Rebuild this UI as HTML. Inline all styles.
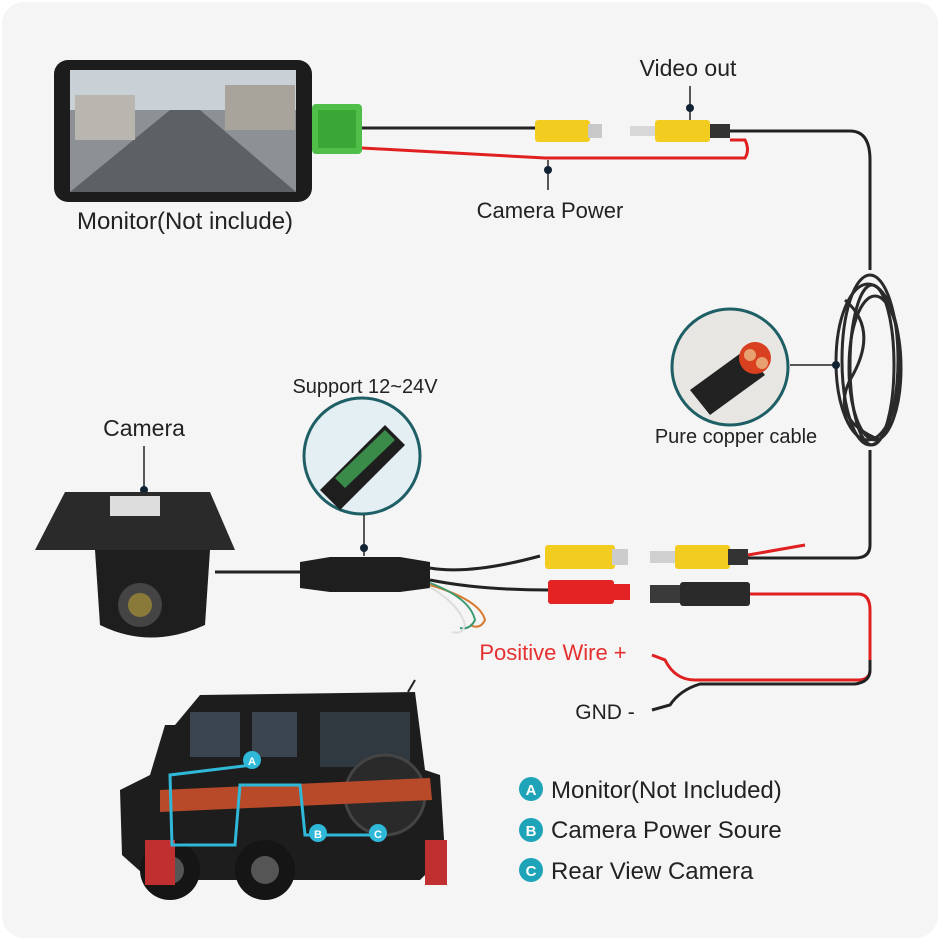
<!DOCTYPE html>
<html><head><meta charset="utf-8"><style>
html,body{margin:0;padding:0;background:#ffffff;}
svg{display:block}
text{font-family:"Liberation Sans",sans-serif;}
</style></head><body>
<svg width="940" height="940" viewBox="0 0 940 940" xmlns="http://www.w3.org/2000/svg">
<rect x="0" y="0" width="940" height="940" fill="#ffffff"/>
<rect x="2" y="2" width="936" height="936" rx="22" fill="#f5f5f5"/>
<!-- monitor -->
<rect x="54" y="60" width="258" height="142" rx="14" fill="#1c1c1c"/>
<rect x="70" y="70" width="226" height="122" fill="#8d9094"/>
<rect x="70" y="70" width="226" height="40" fill="#c9d0d6"/>
<polygon points="70,192 170,110 200,110 296,192" fill="#5d6064"/>
<rect x="75" y="95" width="60" height="45" fill="#b9b6b0"/>
<rect x="225" y="85" width="70" height="45" fill="#a8a39b"/>
<text x="185" y="229" font-size="24" text-anchor="middle" fill="#222">Monitor(Not include)</text>
<!-- green connector -->
<rect x="312" y="104" width="50" height="50" rx="4" fill="#4fbf4a"/>
<rect x="318" y="110" width="38" height="38" fill="#3aa635"/>
<!-- wires top -->
<path d="M362 128 L535 128" stroke="#222" stroke-width="3" fill="none"/>
<path d="M362 148 L545 158 L745 158 Q750 150 745 140 L730 140" stroke="#e02020" stroke-width="3" fill="none"/>
<rect x="535" y="120" width="55" height="22" rx="3" fill="#f2cc1f"/>
<rect x="588" y="124" width="14" height="14" fill="#c8c8c8"/>
<rect x="630" y="126" width="25" height="10" fill="#d8d8d8"/>
<rect x="655" y="120" width="55" height="22" rx="3" fill="#f2cc1f"/>
<rect x="710" y="124" width="20" height="14" fill="#333"/>
<path d="M730 131 L850 131 Q870 131 870 160 L870 270" stroke="#222" stroke-width="3" fill="none"/>
<line x1="690" y1="86" x2="690" y2="120" stroke="#222" stroke-width="1.5"/>
<circle cx="690" cy="108" r="4" fill="#123"/>
<text x="688" y="76" font-size="23" text-anchor="middle" fill="#222">Video out</text>
<line x1="548" y1="160" x2="548" y2="190" stroke="#222" stroke-width="1.5"/>
<circle cx="548" cy="170" r="4" fill="#123"/>
<text x="550" y="218" font-size="22" text-anchor="middle" fill="#222">Camera Power</text>
<!-- coil -->
<g fill="none" stroke="#2a2a2a" stroke-width="3">
<ellipse cx="870" cy="360" rx="28" ry="85"/>
<ellipse cx="872" cy="365" rx="22" ry="80"/>
<ellipse cx="868" cy="362" rx="32" ry="78"/>
<ellipse cx="875" cy="368" rx="26" ry="72"/>
<path d="M845 300 Q880 330 850 380 Q830 420 880 440"/>
</g>
<path d="M870 450 L870 545 Q870 558 855 558 L745 558" stroke="#222" stroke-width="3" fill="none"/>
<line x1="790" y1="365" x2="836" y2="365" stroke="#222" stroke-width="1.5"/>
<circle cx="836" cy="365" r="4" fill="#123"/>
<!-- copper cable circle -->
<circle cx="730" cy="367" r="58" fill="#e8e6e2" stroke="#1e5f66" stroke-width="3"/>
<path d="M690 390 L745 350 L765 375 L710 415 Z" fill="#222"/>
<circle cx="755" cy="358" r="16" fill="#d84020"/>
<circle cx="750" cy="355" r="6" fill="#e8a070"/>
<circle cx="762" cy="363" r="6" fill="#e8a070"/>
<text x="736" y="443" font-size="20" text-anchor="middle" fill="#222">Pure copper cable</text>
<!-- camera -->
<text x="144" y="436" font-size="23" text-anchor="middle" fill="#222">Camera</text>
<line x1="144" y1="446" x2="144" y2="490" stroke="#222" stroke-width="1.5"/>
<circle cx="144" cy="490" r="4" fill="#123"/>
<path d="M35 550 L65 492 L210 492 L235 550 Z" fill="#2a2a2a"/>
<rect x="110" y="496" width="50" height="20" fill="#ddd"/>
<path d="M95 550 L210 550 L205 625 Q150 650 100 625 Z" fill="#1e1e1e"/>
<circle cx="140" cy="605" r="22" fill="#444"/>
<circle cx="140" cy="605" r="12" fill="#8a7a3a"/>
<line x1="215" y1="572" x2="300" y2="572" stroke="#222" stroke-width="3"/>
<!-- module -->
<path d="M300 562 L330 557 L400 557 L430 562 L430 588 L400 592 L330 592 L300 588 Z" fill="#1e1e1e"/>
<path d="M430 568 Q470 575 540 556" stroke="#222" stroke-width="3" fill="none"/>
<path d="M430 580 Q480 590 548 590" stroke="#222" stroke-width="3" fill="none"/>
<path d="M430 585 Q480 600 485 620 Q480 630 470 625" stroke="#d87a30" stroke-width="2" fill="none"/>
<path d="M430 583 Q470 598 475 620 Q470 630 460 628" stroke="#3a9a70" stroke-width="2" fill="none"/>
<path d="M430 587 Q460 605 465 625 Q462 635 452 632" stroke="#ddd" stroke-width="2" fill="none"/>
<!-- 12-24V -->
<text x="365" y="393" font-size="20" text-anchor="middle" fill="#222">Support 12~24V</text>
<circle cx="362" cy="456" r="58" fill="#e4eff4" stroke="#1e5f66" stroke-width="3"/>
<path d="M320 490 L385 425 L405 445 L340 510 Z" fill="#1e1e1e"/>
<path d="M335 478 L385 430 L395 440 L345 488 Z" fill="#3a8a4a"/>
<line x1="364" y1="515" x2="364" y2="556" stroke="#222" stroke-width="1.5"/>
<circle cx="364" cy="548" r="4" fill="#123"/>
<!-- RCA lower -->
<rect x="545" y="545" width="70" height="24" rx="3" fill="#f2cc1f"/>
<rect x="612" y="549" width="16" height="16" fill="#ccc"/>
<rect x="548" y="580" width="66" height="24" rx="3" fill="#e42424"/>
<rect x="612" y="584" width="18" height="16" fill="#e42424"/>
<rect x="650" y="551" width="25" height="12" fill="#d0d0d0"/>
<rect x="675" y="545" width="55" height="24" rx="3" fill="#f2cc1f"/>
<rect x="728" y="549" width="20" height="16" fill="#333"/>
<path d="M748 555 L805 545" stroke="#e02020" stroke-width="3"/>
<rect x="650" y="585" width="30" height="18" fill="#3a3a3a"/>
<rect x="680" y="582" width="70" height="24" rx="3" fill="#2a2a2a"/>
<path d="M750 594 L858 594 Q870 594 870 610 L870 670 Q870 680 858 680 L695 680 Q675 680 665 660 L652 655" stroke="#e02020" stroke-width="3" fill="none"/>
<path d="M870 660 L870 670 Q870 682 855 684 L700 684 Q680 690 670 705 L652 710" stroke="#222" stroke-width="3" fill="none"/>
<text x="553" y="660" font-size="22" text-anchor="middle" fill="#e53030">Positive Wire +</text>
<text x="605" y="719" font-size="21" text-anchor="middle" fill="#222">GND -</text>
<!-- car -->
<path d="M175 725 L200 695 L415 692 L425 770 L440 775 L445 855 L420 880 L150 880 L122 855 L120 790 L150 775 L165 725 Z" fill="#1d1d1d"/>
<line x1="408" y1="692" x2="415" y2="680" stroke="#222" stroke-width="2"/>
<rect x="190" y="712" width="50" height="45" fill="#3a4550"/>
<rect x="252" y="712" width="45" height="45" fill="#3a4550"/>
<rect x="320" y="712" width="90" height="55" fill="#303840"/>
<circle cx="385" cy="795" r="40" fill="#2a2a2a" stroke="#444" stroke-width="3"/>
<path d="M160 790 L430 778 L432 800 L160 812 Z" fill="#b84a2a"/>
<circle cx="170" cy="870" r="30" fill="#151515"/>
<circle cx="170" cy="870" r="14" fill="#555"/>
<circle cx="265" cy="870" r="30" fill="#151515"/>
<circle cx="265" cy="870" r="14" fill="#555"/>
<rect x="145" y="840" width="30" height="45" fill="#c03030"/>
<rect x="425" y="840" width="22" height="45" fill="#c03030"/>
<path d="M252 765 L170 775 L172 845 L235 845 L240 785 L300 785 L305 835 L320 835" stroke="#2fb8d8" stroke-width="3" fill="none"/>
<line x1="320" y1="835" x2="378" y2="835" stroke="#2fb8d8" stroke-width="3"/>
<circle cx="252" cy="760" r="9" fill="#2fb8d8"/><text x="252" y="765" font-size="11" font-weight="bold" fill="#fff" text-anchor="middle">A</text>
<circle cx="318" cy="833" r="9" fill="#2fb8d8"/><text x="318" y="838" font-size="11" font-weight="bold" fill="#fff" text-anchor="middle">B</text>
<circle cx="378" cy="833" r="9" fill="#2fb8d8"/><text x="378" y="838" font-size="11" font-weight="bold" fill="#fff" text-anchor="middle">C</text>
<!-- legend -->
<g font-size="24" fill="#222">
<circle cx="531" cy="789" r="12" fill="#1ea3b8"/><text x="531" y="795" font-size="15" font-weight="bold" fill="#fff" text-anchor="middle">A</text>
<text x="551" y="798">Monitor(Not Included)</text>
<circle cx="531" cy="830" r="12" fill="#1ea3b8"/><text x="531" y="836" font-size="15" font-weight="bold" fill="#fff" text-anchor="middle">B</text>
<text x="551" y="838">Camera Power Soure</text>
<circle cx="531" cy="870" r="12" fill="#1ea3b8"/><text x="531" y="876" font-size="15" font-weight="bold" fill="#fff" text-anchor="middle">C</text>
<text x="551" y="879">Rear View Camera</text>
</g>
</svg>
</body></html>
